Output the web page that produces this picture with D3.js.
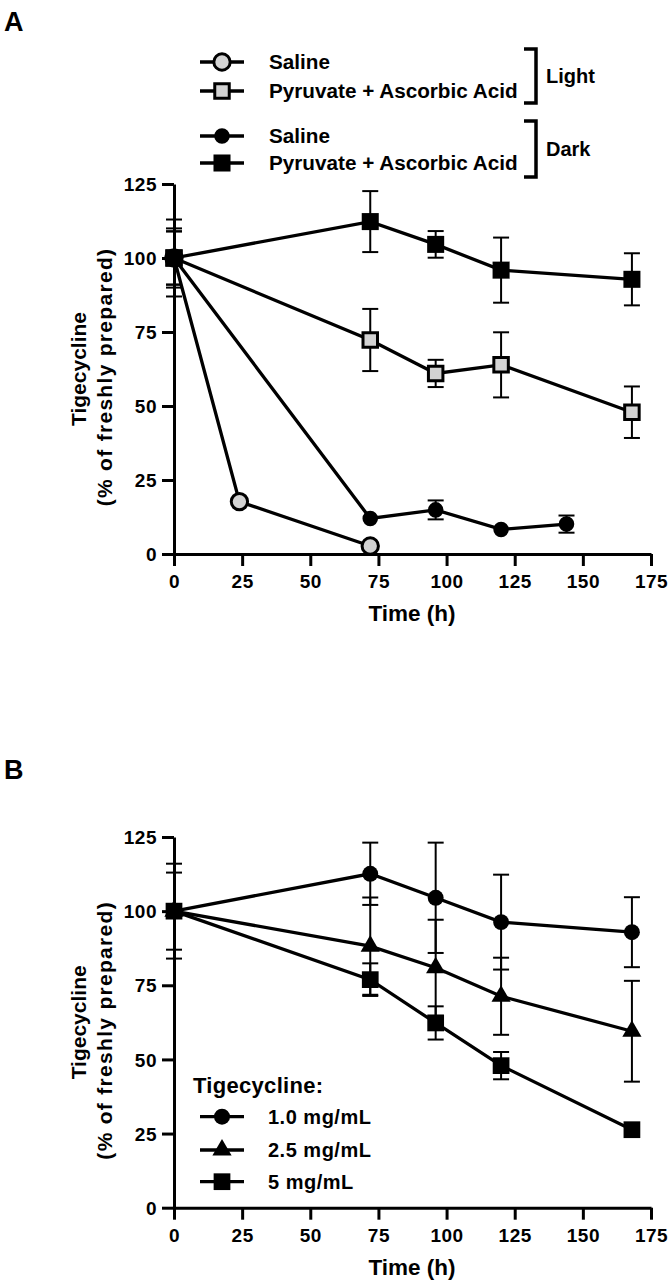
<!DOCTYPE html>
<html><head><meta charset="utf-8">
<script src="https://cdn.jsdelivr.net/npm/d3@7"></script>
<style>
html,body{margin:0;padding:0;background:#fff;}
svg text{font-family:"Liberation Sans",Arial,Helvetica,sans-serif;font-weight:bold;fill:#000;}
</style></head>
<body>
<svg id="chart" width="672" height="1282"></svg>
<script>
// ---------- DATA ----------
const xTicks = [0, 25, 50, 75, 100, 125, 150, 175];
const yTicks = [0, 25, 50, 75, 100, 125];

// Panel A
const timeLightSaline = [0, 24, 72];
const lightSaline = [100, 17.7, 2.7];
const lightSalineErr = [9, 0, 0];

const timeLightPAA = [0, 72, 96, 120, 168];
const lightPAA = [100, 72.3, 61, 63.9, 47.9];
const lightPAAErr = [10, 10.5, 4.6, 11, 8.7];

const timeDarkSaline = [0, 72, 96, 120, 144];
const darkSaline = [100, 12, 14.9, 8.3, 10.1];
const darkSalineErr = [13, 0, 3.2, 0, 2.9];

const timeDarkPAA = [0, 72, 96, 120, 168];
const darkPAA = [100, 112.3, 104.6, 95.9, 92.8];
const darkPAAErr = [9, 10.3, 4.5, 11, 8.8];

const legendA = ["Saline", "Pyruvate + Ascorbic Acid", "Saline", "Pyruvate + Ascorbic Acid"];
const groupA = ["Light", "Dark"];

// Panel B
const timeB = [0, 72, 96, 120, 168];
const conc1 = [100, 112.6, 104.5, 96.3, 92.9];
const conc1Err = [16, 10.5, 18.6, 16, 11.8];
const conc25 = [100, 88.2, 80.9, 71.3, 59.5];
const conc25Err = [13, 16.4, 16.2, 13, 17];
const conc5 = [100, 76.9, 62.3, 47.9, 26.3];
const conc5Err = [0, 5.5, 5.6, 4.6, 0];
const legendBTitle = "Tigecycline:";
const legendB = ["1.0 mg/mL", "2.5 mg/mL", "5 mg/mL"];

const yTitle1 = "Tigecycline";
const yTitle2 = "(% of freshly prepared)";
const xTitle = "Time (h)";

// ---------- DRAW ----------
const svg = d3.select("#chart");
const GREY = "#d3d3d3";

function zip(t, v, e) { return t.map((d, i) => ({ x: d, y: v[i], e: e[i] })); }

function panel(top, bottom, label, labelY) {
  const x = d3.scaleLinear().domain([0, 175]).range([174, 651]);
  const y = d3.scaleLinear().domain([0, 125]).range([bottom, top]);
  const g = svg.append("g");

  const ya = g.append("g").attr("transform", "translate(174,0)")
    .call(d3.axisLeft(y).tickValues(yTicks).tickSize(12).tickSizeOuter(0).tickPadding(5));
  const xa = g.append("g").attr("transform", `translate(0,${bottom})`)
    .call(d3.axisBottom(x).tickValues(xTicks).tickSize(12).tickSizeOuter(0).tickPadding(6));
  [ya, xa].forEach(a => {
    a.select(".domain").attr("stroke", "#000").attr("stroke-width", 3);
    a.selectAll(".tick line").attr("stroke", "#000").attr("stroke-width", 3);
    a.selectAll(".tick text").style("font-size", "19px").style("letter-spacing", "0.5px").attr("fill", "#000");
  });
  ya.selectAll(".tick text").attr("dy", "0.35em");
  xa.selectAll(".tick text").attr("dy", "0.85em");

  const cy = (top + bottom) / 2;
  g.append("text").attr("transform", `translate(86,${cy}) rotate(-90)`).attr("text-anchor", "middle")
    .style("font-size", "21px").text(yTitle1);
  g.append("text").attr("transform", `translate(112,${cy + 8}) rotate(-90)`).attr("text-anchor", "middle")
    .style("font-size", "21px").style("letter-spacing", "1.3px").text(yTitle2);
  g.append("text").attr("x", 412).attr("y", bottom + 67).attr("text-anchor", "middle")
    .style("font-size", "22.5px").text(xTitle);
  svg.append("text").attr("x", 4).attr("y", labelY).style("font-size", "27px").text(label);
  return { x, y, g };
}

function series(P, data, sym, size, fill, sw) {
  const { x, y, g } = P;
  const line = d3.line().x(d => x(d.x)).y(d => y(d.y));
  const s = g.append("g");
  data.filter(d => d.e > 0).forEach(d => {
    const eb = s.append("g").attr("stroke", "#000").attr("stroke-width", 2);
    eb.append("line").attr("x1", x(d.x)).attr("x2", x(d.x)).attr("y1", y(d.y + d.e)).attr("y2", y(d.y - d.e));
    [d.y + d.e, d.y - d.e].forEach(v => eb.append("line").attr("x1", x(d.x) - 8).attr("x2", x(d.x) + 8)
      .attr("y1", y(v)).attr("y2", y(v)));
  });
  s.append("path").datum(data).attr("d", line).attr("fill", "none").attr("stroke", "#000").attr("stroke-width", 3.3);
  return () => {
    g.append("g").selectAll("path").data(data).join("path")
      .attr("d", d3.symbol().type(sym).size(size))
      .attr("transform", d => `translate(${x(d.x)},${y(d.y)})`)
      .attr("fill", fill).attr("stroke", "#000").attr("stroke-width", sw);
  };
}

// Panel A
const symLS = [d3.symbolCircle, 210, GREY, 3];
const symLP = [d3.symbolSquare, 210, GREY, 3];
const symDS = [d3.symbolCircle, 190, "#000", 0];
const symDP = [d3.symbolSquare, 290, "#000", 0];
const A = panel(184, 554, "A", 31);
[
  series(A, zip(timeLightSaline, lightSaline, lightSalineErr), ...symLS),
  series(A, zip(timeDarkSaline, darkSaline, darkSalineErr), ...symDS),
  series(A, zip(timeLightPAA, lightPAA, lightPAAErr), ...symLP),
  series(A, zip(timeDarkPAA, darkPAA, darkPAAErr), ...symDP)
].forEach(f => f());

// Legend A
const legYA = [62, 91, 136, 163];
const legSym = [symLS, symLP, symDS, symDP];
legendA.forEach((t, i) => {
  const yy = legYA[i];
  svg.append("line").attr("x1", 200).attr("x2", 244).attr("y1", yy).attr("y2", yy).attr("stroke", "#000").attr("stroke-width", 3.3);
  svg.append("path").attr("d", d3.symbol().type(legSym[i][0]).size(legSym[i][1]))
    .attr("transform", `translate(222,${yy})`).attr("fill", legSym[i][2]).attr("stroke", "#000").attr("stroke-width", legSym[i][3]);
  svg.append("text").attr("x", 269).attr("y", yy).attr("dy", "0.36em").style("font-size", "20.7px").text(t);
});
[[49, 103], [121, 177]].forEach((b, i) => {
  svg.append("path").attr("d", `M524,${b[0]}H536V${b[1]}H524`).attr("fill", "none").attr("stroke", "#000").attr("stroke-width", 3.5);
  svg.append("text").attr("x", 546).attr("y", (b[0] + b[1]) / 2).attr("dy", "0.36em").style("font-size", "20px").text(groupA[i]);
});

// Panel B
const B = panel(837, 1207.7, "B", 779);
[
  series(B, zip(timeB, conc1, conc1Err), d3.symbolCircle, 200, "#000", 0),
  series(B, zip(timeB, conc25, conc25Err), d3.symbolTriangle, 160, "#000", 0),
  series(B, zip(timeB, conc5, conc5Err), d3.symbolSquare, 280, "#000", 0)
].forEach(f => f());

// Legend B
svg.append("text").attr("x", 193).attr("y", 1085).attr("dy", "0.36em").style("font-size", "22px").style("letter-spacing", "0.3px").text(legendBTitle);
const legYB = [1116.7, 1150, 1181.7];
const legSymB = [[d3.symbolCircle, 200], [d3.symbolTriangle, 160], [d3.symbolSquare, 280]];
legendB.forEach((t, i) => {
  const yy = legYB[i];
  svg.append("line").attr("x1", 200).attr("x2", 244).attr("y1", yy).attr("y2", yy).attr("stroke", "#000").attr("stroke-width", 3.3);
  svg.append("path").attr("d", d3.symbol().type(legSymB[i][0]).size(legSymB[i][1]))
    .attr("transform", `translate(222,${yy})`).attr("fill", "#000");
  svg.append("text").attr("x", 268).attr("y", yy).attr("dy", "0.36em").style("font-size", "20px").style("letter-spacing", "0.5px").text(t);
});
</script>
</body></html>
